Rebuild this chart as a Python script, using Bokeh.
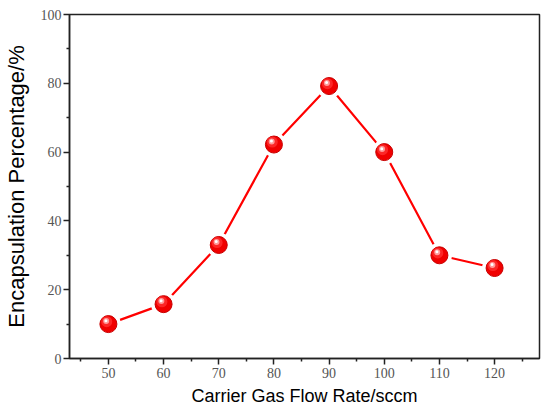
import numpy as np
from bokeh.plotting import figure
from bokeh.models import FixedTicker, Range1d
from bokeh.embed import file_html
from bokeh.resources import INLINE

flow_rate = [50, 60, 70, 80, 90, 100, 110, 120]
encapsulation = [10.0, 15.8, 33.0, 62.2, 79.2, 60.0, 30.0, 26.3]
x_ticks = [50, 60, 70, 80, 90, 100, 110, 120]
x_minor = [45, 55, 65, 75, 85, 95, 105, 115, 125]
y_ticks = [0, 20, 40, 60, 80, 100]
y_minor = [10, 30, 50, 70, 90]

p = figure(width=550, height=411, output_backend="svg", toolbar_location=None,
           x_range=Range1d(42.95, 128.14), y_range=Range1d(0, 100),
           min_border_left=68, min_border_right=11, min_border_top=14, min_border_bottom=53)
p.background_fill_color = "white"
p.border_fill_color = "white"
p.grid.visible = False
p.outline_line_color = "#222222"
p.outline_line_width = 1.5

p.line(flow_rate, encapsulation, line_color="#ff0000", line_width=2.2)
p.scatter(flow_rate, encapsulation, size=25, fill_color="white", line_color=None)
p.scatter(flow_rate, encapsulation, size=17, fill_color="#f00000", line_color="#c80000", line_width=1)
xs = np.array(flow_rate, dtype=float)
ys = np.array(encapsulation, dtype=float)
p.scatter(xs - 0.3, ys + 0.7, size=11, fill_color="#ff3030", line_color=None, fill_alpha=0.8)
p.scatter(xs - 0.4, ys + 0.9, size=6, fill_color="#ff9a9a", line_color=None)
p.scatter(xs - 0.45, ys + 1.0, size=3, fill_color="white", line_color=None)

for ax in (p.xaxis[0], p.yaxis[0]):
    ax.axis_line_color = "#222222"
    ax.axis_line_width = 1.5
    ax.major_tick_line_color = "#222222"
    ax.minor_tick_line_color = "#222222"
    ax.major_tick_line_width = 1.5
    ax.minor_tick_line_width = 1.5
    ax.major_tick_out = 6
    ax.major_tick_in = 0
    ax.minor_tick_out = 3
    ax.minor_tick_in = 0
    ax.major_label_text_font = "Liberation Serif"
    ax.major_label_text_font_size = "14px"
    ax.major_label_text_color = "#555555"
    ax.axis_label_text_font = "Liberation Sans"
    ax.axis_label_text_font_style = "normal"
    ax.axis_label_text_color = "black"

p.xaxis.ticker = FixedTicker(ticks=x_ticks, minor_ticks=x_minor)
p.yaxis.ticker = FixedTicker(ticks=y_ticks, minor_ticks=y_minor)
p.xaxis.axis_label = "Carrier Gas Flow Rate/sccm"
p.yaxis.axis_label = "Encapsulation Percentage/%"
p.xaxis.axis_label_text_font_size = "18px"
p.yaxis.axis_label_text_font_size = "22px"
p.xaxis.major_label_standoff = 3
p.yaxis.major_label_standoff = 2
p.xaxis.axis_label_standoff = 5
p.yaxis.axis_label_standoff = 9

open("out.html", "w").write(file_html(p, INLINE))
